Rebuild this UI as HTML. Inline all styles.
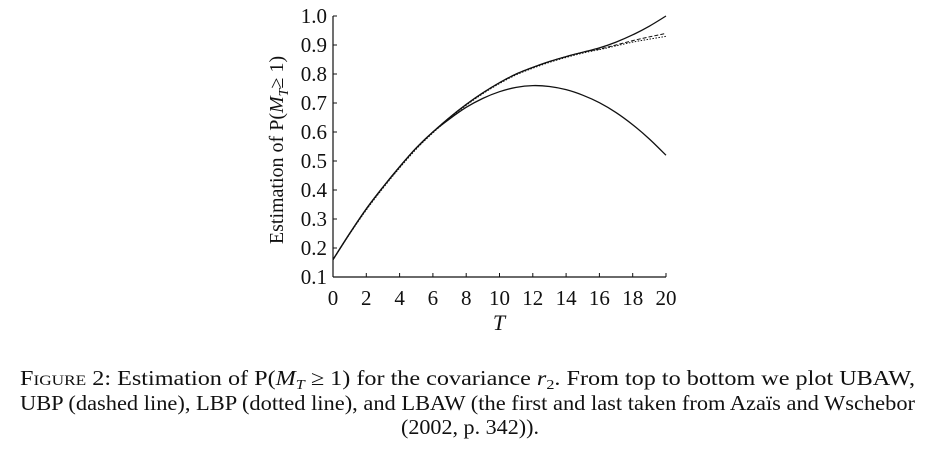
<!DOCTYPE html>
<html><head><meta charset="utf-8"><style>
body{margin:0;background:#fff;width:937px;height:450px;overflow:hidden;font-family:"Liberation Serif",serif;color:#111}
svg{position:absolute;left:0;top:0}
</style></head><body>
<svg width="937" height="450" id="s" font-family="Liberation Serif, serif" font-size="20" fill="#111">
<g stroke="#111" stroke-width="1.2" fill="none">
<line x1="333" y1="16" x2="333" y2="277"/><line x1="333" y1="277" x2="666" y2="277"/>
</g>
<g id="tk"></g>
<g id="cv" fill="none" stroke="#111"></g>
<text transform="translate(283,150) rotate(-90)" text-anchor="middle" font-size="20">Estimation of P(<tspan font-style="italic">M</tspan><tspan font-style="italic" font-size="14" dy="5">T</tspan><tspan dy="-5">≥ 1)</tspan></text>
<text x="499" y="330" text-anchor="middle" font-style="italic" font-size="22">T</text>
<g font-size="21">
<text x="20" y="385" textLength="895" lengthAdjust="spacingAndGlyphs">F<tspan font-size="15">IGURE</tspan> 2: Estimation of P(<tspan font-style="italic">M</tspan><tspan font-style="italic" font-size="14" dy="4">T</tspan><tspan dy="-4">  ≥  1) for the covariance </tspan><tspan font-style="italic">r</tspan><tspan font-size="14" dy="4">2</tspan><tspan dy="-4">.  From top to bottom we plot UBAW,</tspan></text>
<text x="20" y="410" textLength="895" lengthAdjust="spacingAndGlyphs">UBP (dashed line), LBP (dotted line), and LBAW (the first and last taken from Azaïs and Wschebor</text>
<text x="401" y="434" textLength="138" lengthAdjust="spacingAndGlyphs">(2002, p. 342)).</text>
</g>
</svg>
<script>
var X=t=>333+t*16.65, Y=v=>277-(v-0.1)*290;
var tk='';
for(var i=0;i<=10;i++){var x=X(2*i);tk+='<line x1="'+x+'" y1="277" x2="'+x+'" y2="273" stroke="#111"/><text x="'+x+'" y="305" text-anchor="middle" font-size="21">'+(2*i)+'</text>';}
for(var j=1;j<=10;j++){var v=j/10,y=Y(v);tk+='<line x1="333" y1="'+y+'" x2="337" y2="'+y+'" stroke="#111"/><text x="327" y="'+(y+7)+'" text-anchor="end" font-size="21">'+v.toFixed(1)+'</text>';}
document.getElementById('tk').innerHTML=tk;
var base=[.16,.25,.335,.41,.48,.545,.60,.65,.695,.735,.77,.80,.823,.843,.86,.875,.89];
var U=base.concat([.91,.935,.965,1.0]);
var L=[.16,.25,.335,.41,.48,.545,.60,.645,.685,.716,.739,.754,.76,.757,.746,.727,.701,.667,.625,.576,.52];
var D=base.slice(0,16).concat([.886,.9,.915,.928,.94]);
var O=[.16,.248,.331,.406,.476,.541,.597,.647,.692,.732,.767,.797,.82,.84,.857,.872,.884,.897,.91,.92,.93];
function path(a){var p=a.map((v,i)=>[X(i),Y(v)]);var d='M'+p[0];for(var i=0;i<p.length-1;i++){var p0=p[i-1]||p[i],p1=p[i],p2=p[i+1],p3=p[i+2]||p2;d+=' C'+(p1[0]+(p2[0]-p0[0])/6)+','+(p1[1]+(p2[1]-p0[1])/6)+' '+(p2[0]-(p3[0]-p1[0])/6)+','+(p2[1]-(p3[1]-p1[1])/6)+' '+p2;}return d;}
document.getElementById('cv').innerHTML='<path d="'+path(U)+'" stroke-width="1.3"/><path d="'+path(L)+'" stroke-width="1.3"/><path d="'+path(D)+'" stroke-width="1" stroke-dasharray="4,2"/><path d="'+path(O)+'" stroke-width="1" stroke-dasharray="1.5,1.5"/>';
</script>
</body></html>
